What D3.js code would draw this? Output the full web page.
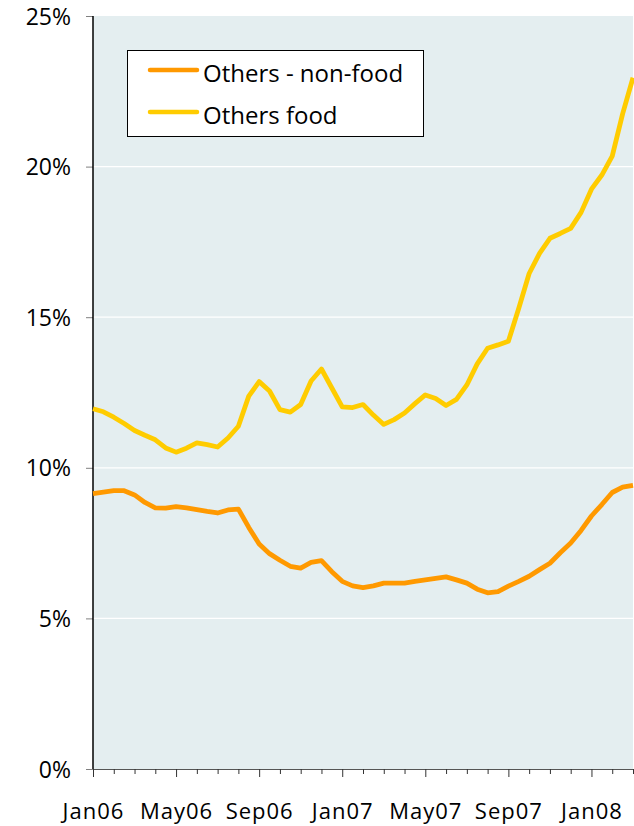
<!DOCTYPE html>
<html>
<head>
<meta charset="utf-8">
<script src="https://cdn.jsdelivr.net/npm/d3@7"></script>
<style>
  html, body { margin: 0; padding: 0; background: #fff; }
  svg { display: block; font-family: "Open Sans", sans-serif; }
</style>
</head>
<body>
<svg id="chart" width="634" height="826"></svg>
<script>
// Half-monthly observations starting Jan 2006 (index i -> month i/2)
const seriesNames = ["Others - non-food", "Others food"];
const nonFood = [9.14, 9.19, 9.24, 9.24, 9.10, 8.85, 8.67, 8.66, 8.71, 8.67,
  8.61, 8.55, 8.50, 8.60, 8.63, 8.02, 7.47, 7.15, 6.93, 6.73,
  6.67, 6.86, 6.92, 6.55, 6.23, 6.08, 6.02, 6.08, 6.17, 6.17,
  6.17, 6.23, 6.28, 6.33, 6.38, 6.28, 6.17, 5.97, 5.85, 5.89,
  6.07, 6.23, 6.40, 6.62, 6.83, 7.18, 7.50, 7.92, 8.40, 8.78,
  9.18, 9.36, 9.42];
const food = [11.96, 11.86, 11.68, 11.47, 11.24, 11.08, 10.93, 10.66, 10.52, 10.65,
  10.83, 10.77, 10.69, 10.99, 11.38, 12.38, 12.86, 12.55, 11.93, 11.85,
  12.10, 12.88, 13.28, 12.65, 12.02, 12.00, 12.10, 11.75, 11.44, 11.60,
  11.82, 12.13, 12.42, 12.30, 12.07, 12.27, 12.75, 13.45, 13.97, 14.08,
  14.20, 15.30, 16.45, 17.12, 17.62, 17.78, 17.95, 18.48, 19.25, 19.72,
  20.35, 21.75, 22.95];
const monthTicks = d3.range(0, 27);          // Jan06 .. Mar08
const xLabels = ["Jan06", "May06", "Sep06", "Jan07", "May07", "Sep07", "Jan08"];
const yTicks = [0, 5, 10, 15, 20, 25];
const colors = ["#ff9900", "#ffcc00"];

const svg = d3.select("#chart");
const mL = 93, mR = 633, mT = 16, mB = 769;

const x = d3.scaleLinear().domain([0, 26]).range([mL, mR]);
const y = d3.scaleLinear().domain([0, 25]).range([mB, mT]);

// plot background
svg.append("rect")
  .attr("x", mL).attr("y", mT)
  .attr("width", mR - mL).attr("height", mB - mT)
  .attr("fill", "#e4eef0");

// gridlines
svg.append("g").selectAll("line")
  .data(yTicks.filter(d => d > 0 && d < 25))
  .join("line")
  .attr("x1", mL).attr("x2", mR)
  .attr("y1", d => y(d)).attr("y2", d => y(d))
  .attr("stroke", "#ffffff").attr("stroke-width", 1.2);

// y axis
const yAxis = d3.axisLeft(y).tickValues(yTicks).tickFormat(d => d + "%").tickSize(7).tickPadding(15);
const gy = svg.append("g").attr("transform", `translate(${mL},0)`).call(yAxis);
gy.select(".domain").remove();
gy.selectAll(".tick line").attr("stroke", "#808080");
gy.selectAll(".tick text").attr("font-size", 23).attr("fill", "#000")
  .attr("font-family", "'Open Sans', sans-serif").attr("dy", "0.35em");

// x axis
const xAxis = d3.axisBottom(x).tickValues(monthTicks)
  .tickSizeInner(5).tickSizeOuter(0).tickFormat(d => d % 4 === 0 ? xLabels[d / 4] : "");
const gx = svg.append("g").attr("transform", `translate(0,${mB})`).call(xAxis);
gx.select(".domain").attr("stroke", "#555");
gx.selectAll(".tick line").attr("stroke", "#333").attr("y2", d => d % 4 === 0 ? 8 : 5);
gx.selectAll(".tick text").attr("font-size", 22).attr("fill", "#000")
  .attr("font-family", "'Open Sans', sans-serif").attr("letter-spacing", "1px")
  .attr("y", 34).attr("dy", "0.71em");

// y axis line
svg.append("line").attr("x1", mL).attr("x2", mL).attr("y1", mT).attr("y2", mB)
  .attr("stroke", "#000").attr("stroke-width", 1.5);

// lines
const line = d3.line().x((d, i) => x(i / 2)).y(d => y(d));
[nonFood, food].forEach((s, k) => {
  svg.append("path").datum(s)
    .attr("d", line)
    .attr("fill", "none")
    .attr("stroke", colors[k])
    .attr("stroke-width", 4.8)
    .attr("stroke-linejoin", "round")
    .attr("stroke-linecap", "butt");
});

// legend
const lg = svg.append("g");
lg.append("rect").attr("x", 127.5).attr("y", 50.5).attr("width", 296).attr("height", 86)
  .attr("fill", "#fff").attr("stroke", "#000").attr("stroke-width", 1);
seriesNames.forEach((name, k) => {
  const yy = 70 + k * 42;
  lg.append("line").attr("x1", 150).attr("x2", 197).attr("y1", yy).attr("y2", yy)
    .attr("stroke", colors[k]).attr("stroke-width", 4.5).attr("stroke-linecap", "round");
  lg.append("text").attr("x", 203).attr("y", yy + 3).attr("dy", "0.36em")
    .attr("font-size", 24).attr("fill", "#000").text(name);
});
</script>
</body>
</html>
